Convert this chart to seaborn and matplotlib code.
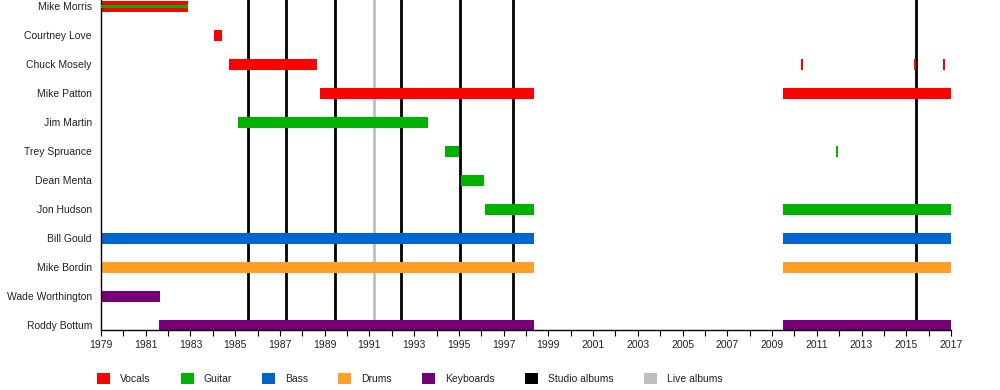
import matplotlib
matplotlib.use("Agg")
import matplotlib.pyplot as plt
from matplotlib.patches import Patch
import seaborn as sns
import pandas as pd

# ---- data ----
members = ["Mike Morris", "Courtney Love", "Chuck Mosely", "Mike Patton", "Jim Martin",
           "Trey Spruance", "Dean Menta", "Jon Hudson", "Bill Gould", "Mike Bordin",
           "Wade Worthington", "Roddy Bottum"]

roles = ["Vocals", "Guitar", "Bass", "Drums", "Keyboards"]
role_colors = ["#FF0000", "#00B200", "#0066CC", "#FFA024", "#770077"]

seg_member = ["Mike Morris", "Mike Morris", "Courtney Love", "Chuck Mosely", "Chuck Mosely",
              "Chuck Mosely", "Chuck Mosely", "Mike Patton", "Mike Patton", "Jim Martin",
              "Trey Spruance", "Trey Spruance", "Dean Menta", "Jon Hudson", "Jon Hudson",
              "Bill Gould", "Bill Gould", "Mike Bordin", "Mike Bordin",
              "Wade Worthington", "Roddy Bottum", "Roddy Bottum"]
seg_role = ["Vocals", "Guitar", "Vocals", "Vocals", "Vocals",
            "Vocals", "Vocals", "Vocals", "Vocals", "Guitar",
            "Guitar", "Guitar", "Guitar", "Guitar", "Guitar",
            "Bass", "Bass", "Drums", "Drums",
            "Keyboards", "Keyboards", "Keyboards"]
seg_start = [1979.0, 1979.0, 1984.06, 1984.73, 2010.30, 2015.35, 2016.65, 1988.79, 2009.51, 1985.12,
             1994.37, 2011.87, 1995.08, 1996.15, 2009.51,
             1979.0, 2009.51, 1979.0, 2009.51,
             1979.0, 1981.59, 2009.51]
seg_end = [1982.88, 1982.88, 1984.40, 1988.66, 2010.37, 2015.42, 2016.72, 1998.34, 2017.0, 1993.62,
           1995.0, 2011.94, 1996.11, 1998.34, 2017.0,
           1998.34, 2017.0, 1998.34, 2017.0,
           1981.64, 1998.34, 2017.0]

studio_albums = [1985.55, 1987.29, 1989.45, 1992.43, 1995.05, 1997.43, 2015.43]
live_albums = [1991.22]

year_min, year_max = 1979, 2017
year_labels = list(range(1979, 2018, 2))

# ---- plot ----
sns.set_theme(style="white")
plt.rcParams["font.family"] = ["Liberation Sans", "DejaVu Sans"]

df = pd.DataFrame({"member": seg_member, "role": seg_role, "start": seg_start, "end": seg_end})
palette = dict(zip(roles, role_colors))

fig = plt.figure(figsize=(10, 3.9), dpi=100)
ax = fig.add_axes([0.101, 1 - 330 / 390, 0.850, 330 / 390])

ypos = {m: i for i, m in enumerate(members)}
bar_h = 0.37

for x in studio_albums:
    ax.axvline(x, color="black", lw=2.0, zorder=1)
for x in live_albums:
    ax.axvline(x, color="#BFBFBF", lw=2.0, zorder=1)

for _, r in df.iterrows():
    h = bar_h
    z = 2
    same = df[(df.member == r.member) & (df.start == r.start) & (df.role != r.role)]
    if len(same) and roles.index(r.role) > roles.index(same.iloc[0].role):
        h = bar_h * 0.35
        z = 3
    ax.barh(ypos[r.member], r.end - r.start, left=r.start, height=h,
            color=palette[r.role], edgecolor="none", linewidth=0, zorder=z)

ax.set_xlim(year_min, year_max)
ax.set_ylim(11 + 4.7 / 29, -6.5 / 29)
ax.set_yticks(range(len(members)))
ax.set_yticklabels(members)
ax.set_xticks(year_labels)
ax.set_xticklabels([str(y) for y in year_labels])
ax.set_xticks(list(range(year_min, year_max + 1)), minor=True)
ax.tick_params(axis="x", which="both", bottom=True, length=4, width=0.8, color="black",
               labelsize=7.5, pad=3, labelcolor="#222222")
ax.tick_params(axis="y", which="both", left=False, length=0, labelsize=7.5, pad=6.5,
               labelcolor="#222222")
sns.despine(ax=ax, top=True, right=True)
for s in ["left", "bottom"]:
    ax.spines[s].set_color("black")
    ax.spines[s].set_linewidth(1.0)
ax.grid(False)
ax.set_facecolor("white")

handles = [Patch(facecolor=c, edgecolor="none") for c in role_colors]
handles += [Patch(facecolor="black", edgecolor="none"), Patch(facecolor="#BFBFBF", edgecolor="none")]
labels = roles + ["Studio albums", "Live albums"]
fig.legend(handles, labels, loc="center left", bbox_to_anchor=(0.097, 1 - 378.5 / 390),
           ncol=7, frameon=False, fontsize=7.5, handlelength=1.25, handleheight=1.25,
           handletextpad=0.95, columnspacing=2.9, borderpad=0, borderaxespad=0,
           labelcolor="#222222")

fig.savefig("out.png", dpi=100, facecolor="white")
